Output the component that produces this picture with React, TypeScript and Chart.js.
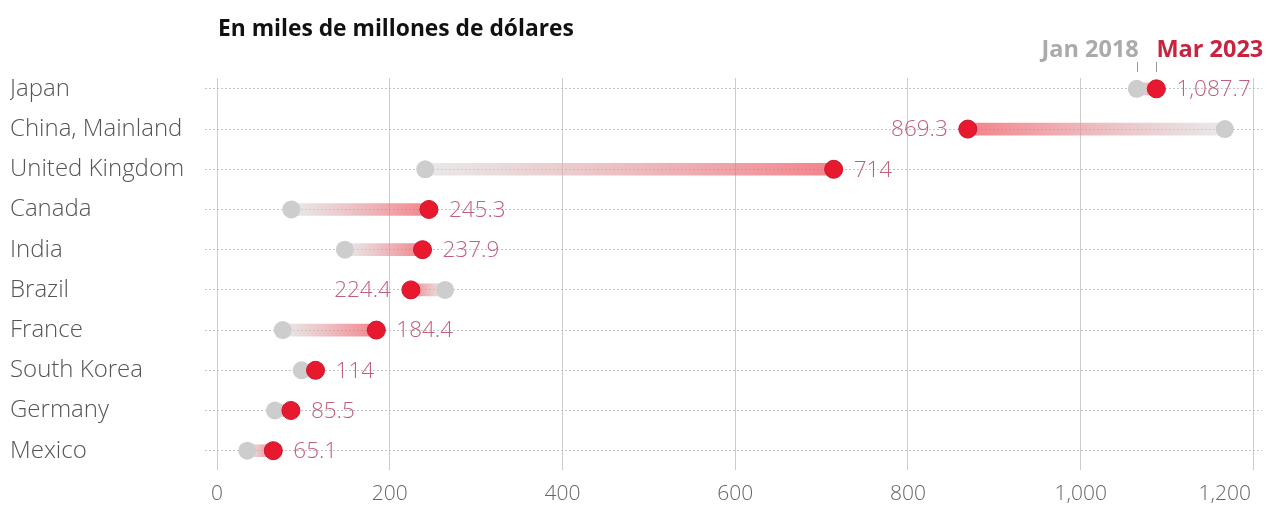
import React, { useEffect, useRef } from 'react';
import { Chart, registerables } from 'chart.js';

Chart.register(...registerables);

const countries = ['Japan', 'China, Mainland', 'United Kingdom', 'Canada', 'India', 'Brazil', 'France', 'South Korea', 'Germany', 'Mexico'];
const jan2018 = [1065, 1167, 241, 86, 148, 264, 76, 98, 67, 35];
const mar2023 = [1087.7, 869.3, 714, 245.3, 237.9, 224.4, 184.4, 114, 85.5, 65.1];
const xTicks = [0, 200, 400, 600, 800, 1000, 1200];
const seriesNames = ['Jan 2018', 'Mar 2023'];
const titleText = 'En miles de millones de dólares';

const RED = '#e8192e';
const GRAY = '#cdcdcd';
const LIGHT_FONT = '"Open Sans"';

const fmt = (v: number) => v.toLocaleString('en-US', { maximumFractionDigits: 1 });

const overlayPlugin = {
  id: 'overlay',
  afterDatasetsDraw(chart: any) {
    const { ctx } = chart;
    const xs = chart.scales.x;
    const ys = chart.scales.y;
    ctx.save();
    // title
    ctx.font = 'bold 22.8px "Open Sans"';
    ctx.fillStyle = '#111';
    ctx.textAlign = 'left';
    ctx.textBaseline = 'alphabetic';
    ctx.fillText(titleText, 218, 36);

    // legend anchored on first row
    const gx = xs.getPixelForValue(jan2018[0]);
    const rx = xs.getPixelForValue(mar2023[0]);
    ctx.font = 'bold 23.5px "Open Sans"';
    ctx.fillStyle = '#aaaaaa';
    ctx.textAlign = 'right';
    ctx.fillText(seriesNames[0], gx + 2, 57);
    ctx.fillStyle = '#c8233f';
    ctx.textAlign = 'left';
    ctx.fillText(seriesNames[1], rx, 57);
    ctx.strokeStyle = '#999';
    ctx.lineWidth = 1;
    ctx.beginPath();
    ctx.moveTo(Math.round(gx) + 0.5, 62);
    ctx.lineTo(Math.round(gx) + 0.5, 72);
    ctx.moveTo(Math.round(rx) + 0.5, 62);
    ctx.lineTo(Math.round(rx) + 0.5, 72);
    ctx.stroke();

    // x tick labels (kept inside canvas at the right edge)
    ctx.font = `300 21px ${LIGHT_FONT}`;
    ctx.fillStyle = '#666';
    ctx.textBaseline = 'middle';
    xTicks.forEach((v) => {
      const px = xs.getPixelForValue(v);
      const label = fmt(v);
      const w = ctx.measureText(label).width;
      const left = Math.min(px - w / 2, 1251 - w);
      ctx.textAlign = 'left';
      ctx.fillText(label, left, 494);
    });

    // value labels
    ctx.font = `300 22.5px ${LIGHT_FONT}`;
    ctx.fillStyle = '#c25f7b';
    ctx.textBaseline = 'middle';
    mar2023.forEach((v, i) => {
      const px = xs.getPixelForValue(v);
      const py = ys.getPixelForValue(i) + 1;
      if (v >= jan2018[i]) {
        ctx.textAlign = 'left';
        ctx.fillText(fmt(v), px + 20, py);
      } else {
        ctx.textAlign = 'right';
        ctx.fillText(fmt(v), px - 20, py);
      }
    });
    ctx.restore();
  },
};

export default function App() {
  const ref = useRef<HTMLCanvasElement | null>(null);
  useEffect(() => {
    if (!ref.current) return;
    const gradient = (c: any) => {
      const chart = c.chart;
      if (!chart.chartArea || c.dataIndex === undefined) return 'rgba(230,120,120,0.6)';
      const i = c.dataIndex;
      const xs = chart.scales.x;
      const a = xs.getPixelForValue(jan2018[i]);
      const b = xs.getPixelForValue(mar2023[i]);
      const g = chart.ctx.createLinearGradient(a, 0, b === a ? a + 1 : b, 0);
      g.addColorStop(0, 'rgba(215,215,215,0.55)');
      g.addColorStop(1, 'rgba(238,90,100,0.75)');
      return g;
    };
    const chart = new Chart(ref.current, {
      type: 'bar',
      data: {
        datasets: [
          {
            type: 'bar',
            indexAxis: 'y',
            data: countries.map((_, i) => ({ x: [jan2018[i], mar2023[i]], y: i })) as any,
            backgroundColor: gradient,
            borderWidth: 0,
            barThickness: 12,
            order: 3,
          } as any,
          {
            type: 'scatter',
            data: jan2018.map((v, i) => ({ x: v, y: i })),
            pointRadius: 9,
            pointBackgroundColor: GRAY,
            pointBorderWidth: 0,
            order: 2,
          } as any,
          {
            type: 'scatter',
            data: mar2023.map((v, i) => ({ x: v, y: i })),
            pointRadius: 9,
            pointBackgroundColor: RED,
            pointBorderColor: '#c9142a',
            pointBorderWidth: 1,
            order: 1,
          } as any,
        ],
      },
      options: {
        responsive: false,
        animation: false,
        devicePixelRatio: 1,
        indexAxis: 'y',
        layout: { autoPadding: false, padding: { top: 78, left: 10, right: 5, bottom: 0 } },
        plugins: { legend: { display: false }, tooltip: { enabled: false } },
        scales: {
          x: {
            type: 'linear',
            position: 'bottom',
            min: -14,
            max: 1210,
            offset: false,
            afterBuildTicks: (s: any) => { s.ticks = xTicks.map((v) => ({ value: v })); },
            afterFit: (s: any) => { s.height = 38; s.paddingLeft = 0; s.paddingRight = 0; },
            ticks: { display: false },
            grid: { color: '#cccccc', lineWidth: 1, drawTicks: false, offset: false },
            border: { display: false },
          },
          y: {
            type: 'linear',
            position: 'left',
            reverse: true,
            min: -0.27,
            max: 9.48,
            offset: false,
            afterBuildTicks: (s: any) => { s.ticks = countries.map((_, i) => ({ value: i })); },
            afterFit: (s: any) => { s.width = 195; s.paddingTop = 0; s.paddingBottom = 0; },
            ticks: {
              crossAlign: 'far',
              padding: 0,
              color: '#555',
              font: { family: 'Open Sans', size: 24, weight: '300' as any },
              callback: (v: any) => countries[Number(v)],
            },
            grid: { color: '#c4c4c4', lineWidth: 1, drawTicks: false, offset: false },
            border: { display: false, dash: [2, 2] },
          },
        },
      },
      plugins: [overlayPlugin],
    });
    return () => chart.destroy();
  }, []);
  return (
    <div style={{ position: 'absolute', left: 0, top: 0, width: 1267, height: 508, background: '#fff' }}>
      <canvas ref={ref} width={1267} height={508} />
    </div>
  );
}
